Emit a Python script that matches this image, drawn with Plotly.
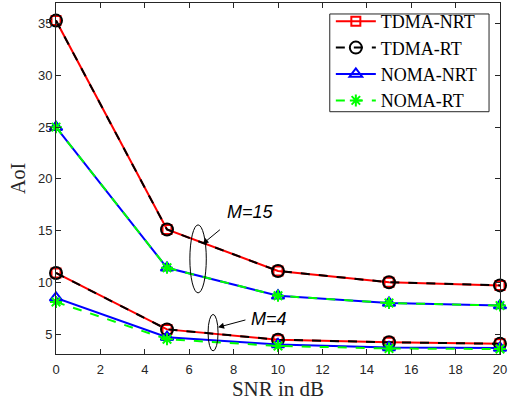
import plotly.graph_objects as go

snr = [0, 5, 10, 15, 20]
tdma_nrt_m15 = [35.3, 15.1, 11.1, 10.0, 9.7]
tdma_rt_m15 = [35.3, 15.1, 11.1, 10.0, 9.7]
noma_nrt_m15 = [25.0, 11.4, 8.7, 8.0, 7.75]
noma_rt_m15 = [25.0, 11.4, 8.7, 8.0, 7.75]
tdma_nrt_m4 = [10.9, 5.45, 4.45, 4.2, 4.05]
tdma_rt_m4 = [10.9, 5.45, 4.45, 4.2, 4.05]
noma_nrt_m4 = [8.5, 4.7, 4.0, 3.7, 3.65]
noma_rt_m4 = [8.1, 4.5, 3.85, 3.6, 3.55]
xticks = [0, 2, 4, 6, 8, 10, 12, 14, 16, 18, 20]
yticks = [5, 10, 15, 20, 25, 30, 35]

series = [
    ("TDMA-NRT", tdma_nrt_m15, tdma_nrt_m4, "red", "solid", "square-open", 9),
    ("TDMA-RT", tdma_rt_m15, tdma_rt_m4, "black", "dash", "circle-open", 12),
    ("NOMA-NRT", noma_nrt_m15, noma_nrt_m4, "blue", "solid", "triangle-up-open", 11),
    ("NOMA-RT", noma_rt_m15, noma_rt_m4, "#00ff00", "dash", "asterisk-open", 10),
]

fig = go.Figure()
for name, y15, y4, col, dash, sym, sz in series:
    for i, yy in enumerate([y15, y4]):
        fig.add_trace(go.Scatter(
            x=snr, y=yy, mode="lines+markers", name=name,
            showlegend=(i == 0), legendgroup=name,
            line=dict(color=col, width=2, dash=dash),
            marker=dict(symbol=sym, size=sz, color=col, line=dict(width=2, color=col)),
            cliponaxis=False,
        ))

axcol = "#262626"
fig.update_layout(
    width=509, height=404,
    margin=dict(l=56, r=7, t=2, b=50),
    paper_bgcolor="white", plot_bgcolor="white",
    font=dict(family="Liberation Sans", size=13, color=axcol),
    showlegend=True,
    legend=dict(
        x=0.619, y=1.0, xanchor="left", yanchor="top",
        bgcolor="rgba(0,0,0,0)", borderwidth=0,
        font=dict(family="Liberation Serif", size=18, color="black"),
        tracegroupgap=0, itemwidth=40,
    ),
    xaxis=dict(
        range=[0, 20], tickmode="array", tickvals=xticks,
        showgrid=False, zeroline=False,
        showline=True, linecolor=axcol, linewidth=1, mirror="ticks",
        ticks="inside", ticklen=5, tickcolor=axcol,
        ticklabeloverflow="allow", ticklabelstandoff=3,
        title=dict(text="SNR in dB", font=dict(family="Liberation Serif", size=21, color=axcol), standoff=5),
    ),
    yaxis=dict(
        range=[3.07, 37.0], tickmode="array", tickvals=yticks,
        showgrid=False, zeroline=False,
        showline=True, linecolor=axcol, linewidth=1, mirror="ticks",
        ticks="inside", ticklen=5, tickcolor=axcol,
        title=dict(text="AoI", font=dict(family="Liberation Serif", size=20, color=axcol), standoff=6),
    ),
)

# legend frame
fig.add_shape(type="rect", xref="paper", yref="paper", x0=0.6166, x1=0.9753, y0=0.6903, y1=0.96875,
              fillcolor="white", line=dict(color=axcol, width=1), layer="above")

# ellipses
fig.add_shape(type="circle", xref="x", yref="y", x0=6.03, x1=6.77, y0=8.98, y1=15.55,
              line=dict(color="black", width=1))
fig.add_shape(type="circle", xref="x", yref="y", x0=6.85, x1=7.3, y0=3.37, y1=6.9,
              line=dict(color="black", width=1))

# labels with arrows
fig.add_annotation(x=6.6, y=13.7, xref="x", yref="y", ax=7.45, ay=15.2, axref="x", ayref="y",
                   text="", showarrow=True, arrowhead=2, arrowsize=1.2, arrowwidth=1, arrowcolor="black")
fig.add_annotation(x=7.3, y=5.65, xref="x", yref="y", ax=8.6, ay=6.4, axref="x", ayref="y",
                   text="", showarrow=True, arrowhead=2, arrowsize=1.2, arrowwidth=1, arrowcolor="black")
fig.add_annotation(x=7.6, y=16.8, xref="x", yref="y", text="<i>M=15</i>", showarrow=False,
                   xanchor="left", yanchor="middle", font=dict(family="Liberation Sans", size=18, color="black"))
fig.add_annotation(x=8.7, y=6.5, xref="x", yref="y", text="<i>M=4</i>", showarrow=False,
                   xanchor="left", yanchor="middle", font=dict(family="Liberation Sans", size=18, color="black"))

fig.write_html("out.html")
